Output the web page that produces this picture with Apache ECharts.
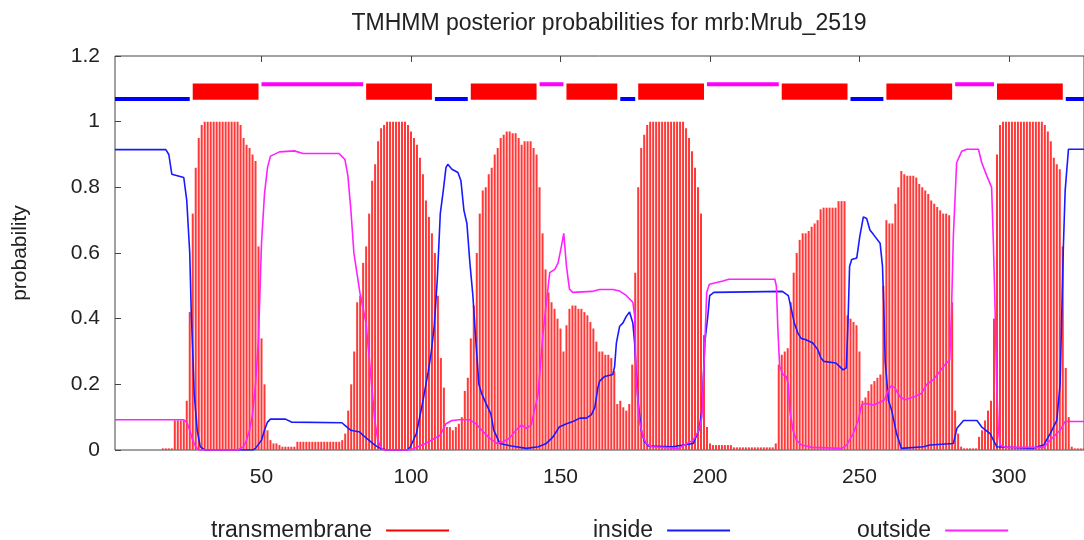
<!DOCTYPE html>
<html>
<head>
<meta charset="utf-8">
<title>TMHMM posterior probabilities for mrb:Mrub_2519</title>
<script src="https://cdn.jsdelivr.net/npm/echarts@6/dist/echarts.min.js"></script>
<style>
html, body { margin: 0; padding: 0; background: #fff; }
#chart { width: 1084px; height: 540px; }
</style>
</head>
<body>
<div id="chart"></div>
<script>
// tick labels on the residue axis
var xTicks = [50, 100, 150, 200, 250, 300];

// transmembrane probability, one value per residue (1..325)
var tmProb = [
	0, 0, 0, 0, 0, 0, 0, 0, 0, 0,
	0, 0, 0, 0, 0, 0, 0.005, 0.005, 0.005, 0.005,
	0.09, 0.09, 0.09, 0.09, 0.15, 0.42, 0.72, 0.86, 0.95, 0.99,
	1, 1, 1, 1, 1, 1, 1, 1, 1, 1,
	1, 1, 0.99, 0.95, 0.93, 0.92, 0.9, 0.88, 0.62, 0.34,
	0.2, 0.06, 0.03, 0.02, 0.02, 0.015, 0.01, 0.01, 0.01, 0.01,
	0.01, 0.025, 0.025, 0.025, 0.025, 0.025, 0.025, 0.025, 0.025, 0.025,
	0.025, 0.025, 0.025, 0.025, 0.025, 0.025, 0.03, 0.05, 0.12, 0.2,
	0.3, 0.45, 0.47, 0.57, 0.62, 0.72, 0.82, 0.87, 0.94, 0.98,
	0.99, 1, 1, 1, 1, 1, 1, 1, 0.99, 0.97,
	0.95, 0.93, 0.89, 0.84, 0.76, 0.71, 0.66, 0.6, 0.47, 0.28,
	0.19, 0.07, 0.07, 0.06, 0.07, 0.08, 0.1, 0.18, 0.22, 0.34,
	0.44, 0.6, 0.72, 0.79, 0.8, 0.84, 0.86, 0.9, 0.92, 0.95,
	0.96, 0.97, 0.97, 0.965, 0.965, 0.95, 0.93, 0.94, 0.94, 0.94,
	0.92, 0.9, 0.8, 0.66, 0.55, 0.48, 0.45, 0.43, 0.4, 0.37,
	0.3, 0.38, 0.43, 0.44, 0.44, 0.43, 0.43, 0.42, 0.41, 0.39,
	0.37, 0.33, 0.3, 0.3, 0.29, 0.29, 0.28, 0.24, 0.14, 0.15,
	0.13, 0.12, 0.14, 0.26, 0.54, 0.8, 0.92, 0.96, 0.99, 1,
	1, 1, 1, 1, 1, 1, 1, 1, 1, 1,
	1, 0.98, 0.95, 0.91, 0.86, 0.8, 0.72, 0.35, 0.07, 0.02,
	0.015, 0.015, 0.015, 0.015, 0.015, 0.015, 0.015, 0.008, 0.008, 0.008,
	0.008, 0.008, 0.008, 0.008, 0.008, 0.008, 0.008, 0.008, 0.008, 0.008,
	0.008, 0.02, 0.26, 0.29, 0.3, 0.31, 0.45, 0.54, 0.6, 0.64,
	0.66, 0.66, 0.667, 0.68, 0.69, 0.7, 0.733, 0.738, 0.738, 0.738,
	0.738, 0.738, 0.758, 0.758, 0.758, 0.41, 0.4, 0.39, 0.38, 0.3,
	0.15, 0.16, 0.18, 0.2, 0.21, 0.22, 0.23, 0.5, 0.7, 0.69,
	0.69, 0.75, 0.8, 0.85, 0.84, 0.835, 0.835, 0.835, 0.83, 0.81,
	0.8, 0.79, 0.78, 0.76, 0.75, 0.74, 0.73, 0.72, 0.72, 0.715,
	0.45, 0.12, 0.05, 0.01, 0.005, 0.005, 0.005, 0.005, 0.005, 0.04,
	0.06, 0.09, 0.12, 0.15, 0.4, 0.9, 0.99, 1, 1, 1,
	1, 1, 1, 1, 1, 1, 1, 1, 1, 1,
	1, 0.99, 0.97, 0.94, 0.89, 0.87, 0.855, 0.62, 0.25, 0.1,
	0.01, 0.005, 0.005, 0.005, 0.005
];

// inside probability, [residue, probability]
var insidePts = [
	[1, 0.915], [18, 0.915], [19, 0.9], [20, 0.84], [24, 0.83], [25, 0.76], [26, 0.6], [26.5, 0.42],
	[27, 0.3], [27.5, 0.17], [28.5, 0.06], [29.5, 0.01], [31, 0], [47, 0], [48, 0.005], [50, 0.03],
	[51, 0.06], [52, 0.085], [53, 0.094], [58, 0.094], [60, 0.085], [76.9, 0.083], [77.9, 0.075],
	[79.9, 0.06], [82.9, 0.055], [83.9, 0.045], [85.9, 0.03], [87.9, 0.015], [89.8, 0.005], [91.8, 0],
	[98.8, 0], [99.8, 0.01], [101.8, 0.05], [103.8, 0.14], [105.8, 0.24], [106.8, 0.3], [107.8, 0.38],
	[108.8, 0.52], [109.8, 0.72], [110.8, 0.79], [111.7, 0.86], [112.3, 0.87], [113.7, 0.855],
	[115.7, 0.845], [116.7, 0.82], [117.7, 0.73], [118.7, 0.69], [119.7, 0.57], [120.7, 0.47],
	[121.7, 0.33], [122.7, 0.2], [123.7, 0.17], [125.7, 0.13], [126.7, 0.11], [127.7, 0.06],
	[129.7, 0.02], [133.6, 0.012], [138.6, 0.005], [142.6, 0.01], [145.3, 0.02], [147.5, 0.04],
	[149.6, 0.07], [152, 0.08], [154.2, 0.087], [156.5, 0.097], [158.6, 0.097], [160.3, 0.107],
	[161.5, 0.13], [162.5, 0.19], [163.1, 0.21], [164.8, 0.224], [167.5, 0.23], [168.1, 0.254],
	[168.7, 0.326], [169.8, 0.377], [170.9, 0.387], [172, 0.407], [173.1, 0.42], [174.2, 0.387],
	[174.8, 0.326], [175.3, 0.244], [175.9, 0.153], [177, 0.06], [178.1, 0.025], [179.4, 0.012],
	[187.4, 0.01], [194.4, 0.02], [196.3, 0.06], [197.3, 0.12], [198.3, 0.33], [199.3, 0.41],
	[199.9, 0.47], [201.3, 0.48], [224.2, 0.483], [226.2, 0.47], [227.2, 0.43], [228.2, 0.387],
	[229.4, 0.356], [230.5, 0.34], [232.1, 0.336], [234.4, 0.326], [236.1, 0.305], [237.1, 0.28],
	[238.1, 0.27], [242.1, 0.265], [243.4, 0.254], [244.5, 0.244], [245.6, 0.25], [246.2, 0.4],
	[246.7, 0.56], [247.4, 0.58], [249.1, 0.585], [250.1, 0.65], [251.3, 0.71], [252.4, 0.705],
	[253.5, 0.67], [254.7, 0.656], [256.9, 0.63], [257.7, 0.56], [258.1, 0.45], [258.6, 0.27],
	[259.7, 0.15], [260.8, 0.12], [262.4, 0.05], [264, 0.005], [271.4, 0.01], [273.6, 0.015],
	[281.4, 0.02], [282.6, 0.066], [284.8, 0.09], [289.3, 0.09], [290.9, 0.07], [293.7, 0.05],
	[295.9, 0.01], [307.9, 0.005], [311.6, 0.015], [313.8, 0.05], [316, 0.09], [317.1, 0.2],
	[317.7, 0.43], [318.2, 0.62], [318.8, 0.79], [319.9, 0.916], [325.1, 0.916]
];

// outside probability, [residue, probability]
var outsidePts = [
	[1, 0.092], [24, 0.092], [25, 0.085], [26, 0.06], [27, 0.03], [28, 0.01], [29, 0], [42, 0],
	[44, 0.01], [45, 0.03], [46, 0.06], [47, 0.11], [48, 0.2], [49, 0.34], [50, 0.63], [51, 0.78],
	[52, 0.86], [53, 0.895], [56, 0.908], [61, 0.911], [63.9, 0.903], [75.9, 0.903], [77.9, 0.885],
	[78.9, 0.835], [79.9, 0.73], [80.9, 0.6], [81.9, 0.54], [82.9, 0.48], [84.9, 0.39], [85.9, 0.295],
	[86.9, 0.19], [87.9, 0.09], [88.9, 0.03], [89.8, 0.01], [90.8, 0], [99.8, 0], [104.8, 0.02],
	[109.8, 0.045], [111.7, 0.08], [113.7, 0.09], [116.2, 0.092], [119.7, 0.092], [121.7, 0.08],
	[124.1, 0.056], [126.3, 0.036], [128.7, 0.02], [130.7, 0.025], [132.9, 0.036], [135.2, 0.061],
	[136.9, 0.076], [138.6, 0.066], [140.2, 0.076], [140.8, 0.08], [142.5, 0.17], [144.1, 0.35],
	[145.3, 0.45], [146.4, 0.54], [148.1, 0.55], [149.2, 0.57], [150.3, 0.62], [151.1, 0.66],
	[152, 0.56], [153, 0.49], [154.1, 0.48], [160.5, 0.483], [163.1, 0.489], [167.5, 0.489],
	[169.8, 0.484], [172.1, 0.47], [174.2, 0.45], [174.8, 0.41], [175.3, 0.22], [176.4, 0.09],
	[177.6, 0.04], [178.7, 0.02], [180.4, 0.01], [189.4, 0.005], [194.4, 0.03], [196.3, 0.06],
	[197.3, 0.1], [198.3, 0.33], [198.9, 0.48], [199.8, 0.505], [204.3, 0.515], [206.3, 0.52],
	[221.7, 0.52], [222.2, 0.5], [222.7, 0.37], [223.3, 0.255], [224.4, 0.23], [225.5, 0.224],
	[226.2, 0.2], [226.7, 0.12], [227.8, 0.06], [228.9, 0.03], [230.6, 0.015], [234.2, 0.008],
	[244.1, 0.005], [245.7, 0.015], [247.9, 0.05], [249.6, 0.09], [250.7, 0.137], [251.9, 0.142],
	[254.7, 0.137], [257.4, 0.148], [258.4, 0.153], [259.5, 0.18], [260.6, 0.195], [261.8, 0.19],
	[263.5, 0.163], [265.2, 0.153], [268.6, 0.163], [270.8, 0.173], [272.5, 0.2], [274.7, 0.214],
	[276.4, 0.234], [278.6, 0.26], [280.2, 0.275], [280.8, 0.43], [281.4, 0.65], [282.5, 0.875],
	[284.2, 0.91], [285.9, 0.916], [289.8, 0.916], [290.9, 0.875], [292.6, 0.835], [294.2, 0.8],
	[294.8, 0.63], [295.4, 0.41], [295.9, 0.2], [296.4, 0.07], [297, 0.015], [298.9, 0.008],
	[311.6, 0.008], [314.3, 0.035], [317.1, 0.06], [318.8, 0.087], [325.1, 0.087]
];

// predicted topology along the top of the plot
var topoStart = [1, 27, 50, 85, 108, 120, 143, 152, 170, 176, 199, 224, 247, 259, 282, 296, 319];
var topoEnd = [26, 49, 84, 107, 119, 142, 151, 169, 175, 198, 223, 246, 258, 281, 295, 318, 326];
var topoKind = ['inside', 'TM', 'outside', 'TM', 'inside', 'TM', 'outside', 'TM', 'inside',
	'TM', 'outside', 'TM', 'inside', 'TM', 'outside', 'TM', 'inside'];

var FONT = 'Liberation Sans, Arial, sans-serif';
var RED = '#ff0000', BLUE = '#1a1aff', MAGENTA = '#ff22ff';

var chart = echarts.init(document.getElementById('chart'));

function renderTopo(params, api) {
	var kind = topoKind[params.dataIndex];
	var x0 = api.coord([api.value(0), 0])[0];
	var x1 = api.coord([api.value(1), 0])[0];
	var shape, fill;
	if (kind === 'TM') {
		var yt = api.coord([0, 1.116])[1];
		var yb = api.coord([0, 1.067])[1];
		shape = {x: x0, y: yt, width: x1 - x0, height: yb - yt};
		fill = RED;
	} else {
		var yc = api.coord([0, kind === 'inside' ? 1.069 : 1.114])[1];
		shape = {x: x0, y: yc - 2, width: x1 - x0, height: 4};
		fill = kind === 'inside' ? '#0000ff' : '#ff00ff';
	}
	return {type: 'rect', shape: shape, style: {fill: fill}};
}

function legendAt(name, left, color) {
	return {
		data: [{name: name, itemStyle: {color: color}}],
		left: left,
		top: 514,
		align: 'right',
		icon: 'rect',
		itemWidth: 63,
		itemHeight: 2,
		selectedMode: false,
		textStyle: {fontFamily: FONT, fontSize: 23, color: '#222', padding: [0, 9, 0, 0]}
	};
}

var option = {
	animation: false,
	backgroundColor: '#fff',
	title: {
		text: 'TMHMM posterior probabilities for mrb:Mrub_2519',
		left: 604,
		textAlign: 'center',
		top: 7,
		textStyle: {fontFamily: FONT, fontSize: 23, fontWeight: 'normal', color: '#222'}
	},
	legend: [
		legendAt('transmembrane', 206, RED),
		legendAt('inside', 588, BLUE),
		legendAt('outside', 852, MAGENTA)
	],
	grid: {
		left: 115, right: 0, top: 56, bottom: 90,
		show: true, borderColor: '#444', borderWidth: 1, backgroundColor: 'transparent'
	},
	xAxis: [{
		type: 'value', min: 1, max: 325.1,
		axisLine: {show: false},
		splitLine: {show: false},
		axisTick: {show: true, inside: true, length: 6, lineStyle: {color: '#444'}, customValues: xTicks},
		axisLabel: {customValues: xTicks, margin: 17, fontFamily: FONT, fontSize: 21, color: '#222'}
	}, {
		type: 'value', min: 1, max: 325.1, position: 'top',
		axisLine: {show: false},
		splitLine: {show: false},
		axisTick: {show: true, inside: true, length: 6, lineStyle: {color: '#444'}, customValues: xTicks},
		axisLabel: {show: false}
	}],
	yAxis: {
		type: 'value', min: 0, max: 1.2, interval: 0.2,
		name: 'probability', nameLocation: 'middle', nameRotate: 90, nameGap: 84,
		nameTextStyle: {fontFamily: FONT, fontSize: 21, color: '#222'},
		axisLine: {show: false},
		splitLine: {show: false},
		axisTick: {show: true, inside: true, length: 6, lineStyle: {color: '#444'}},
		axisLabel: {margin: 15, fontFamily: FONT, fontSize: 21, color: '#222'}
	},
	series: [{
		name: 'transmembrane',
		type: 'bar',
		barWidth: 2,
		itemStyle: {color: '#ff3838'},
		data: tmProb.map(function (v, i) { return [i + 1, v]; }),
		z: 1
	}, {
		name: 'inside',
		type: 'line',
		showSymbol: false,
		color: BLUE,
		lineStyle: {color: BLUE, width: 1.6},
		data: insidePts,
		z: 3
	}, {
		name: 'outside',
		type: 'line',
		showSymbol: false,
		color: MAGENTA,
		lineStyle: {color: MAGENTA, width: 1.6},
		data: outsidePts,
		z: 3
	}, {
		name: 'topology',
		type: 'custom',
		renderItem: renderTopo,
		encode: {x: [0, 1]},
		data: topoStart.map(function (s, i) { return [s, topoEnd[i]]; }),
		z: 2
	}]
};

chart.setOption(option);
</script>
</body>
</html>
